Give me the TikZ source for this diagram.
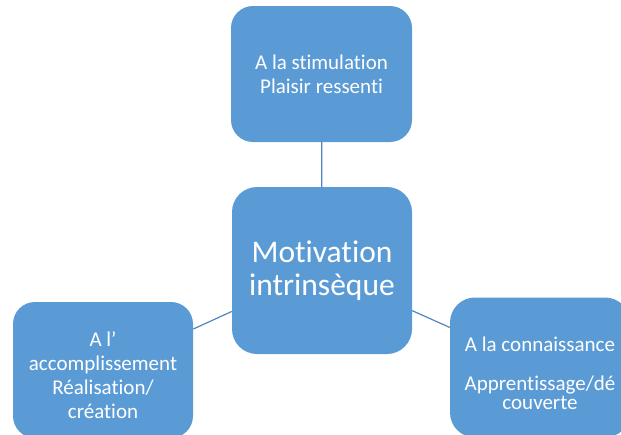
\documentclass[tikz,border=0pt]{standalone}
\usepackage{fontspec}
\setmainfont{Carlito}[Ligatures={NoCommon,NoContextual}]
\usetikzlibrary{positioning}
\definecolor{boxblue}{HTML}{5B9BD5}
\definecolor{lineblue}{HTML}{4F86C0}
\newcommand{\toppad}{\rule{0pt}{26pt}}

\begin{document}
\begin{tikzpicture}[
    x=1pt, y=-1pt,
    link/.style={draw=lineblue, line width=1.2pt},
    bubble/.style={rectangle, fill=boxblue, rounded corners=22pt, inner sep=0pt,
        minimum width=180pt, text=white, align=center,
        font=\fontsize{21}{24}\selectfont},
    centre/.style={bubble, rounded corners=25pt, minimum height=167pt,
        font=\fontsize{31.5}{33}\selectfont}
]
\useasboundingbox (0,0) rectangle (621,434);
\node (Stimulation) [bubble, minimum width=181pt, minimum height=136pt] at (321.5,74)
  {A la stimulation\\Plaisir ressenti};
\node (Motivation) [centre] at (322,270.5) {Motivation\\intrinsèque};
\node (Accomplissement) [bubble, minimum height=136pt] at (103,370)
  {\toppad A l'\\accomplissement\\Réalisation/\\création};
\node (Connaissance) [bubble, minimum height=140pt, rounded corners=25pt,
    font=\fontsize{21}{19}\selectfont] at (540,367.5)
  {\toppad A la connaissance\\[20pt]Apprentissage/dé\\couverte};
% liens vers le centre
\draw [link] (Stimulation) -- (Motivation);
\draw [link] (Accomplissement) -- (Motivation);
\draw [link] (Motivation) -- (Connaissance);
\end{tikzpicture}
\end{document}
